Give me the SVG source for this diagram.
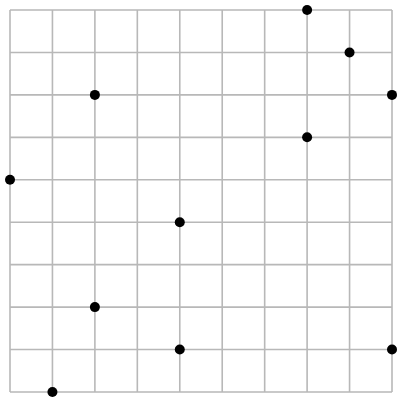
<svg xmlns="http://www.w3.org/2000/svg" width="400" height="398" viewBox="0 0 400 398">
<style>
.g{stroke:#b8b8b8;stroke-width:1.6;fill:none}
.d{fill:#000}
</style>
<rect width="400" height="398" fill="#fff"/>
<g id="grid" class="g">
<path d="M10 10V392M52.44 10V392M94.89 10V392M137.33 10V392M179.78 10V392M222.22 10V392M264.67 10V392M307.11 10V392M349.56 10V392M392 10V392"/>
<path d="M10 10H392M10 52.44H392M10 94.89H392M10 137.33H392M10 179.78H392M10 222.22H392M10 264.67H392M10 307.11H392M10 349.56H392M10 392H392"/>
</g>
<g id="dots" class="d">
<circle cx="307.11" cy="10" r="5"/>
<circle cx="349.56" cy="52.44" r="5"/>
<circle cx="94.89" cy="94.89" r="5"/>
<circle cx="392" cy="94.89" r="5"/>
<circle cx="307.11" cy="137.33" r="5"/>
<circle cx="10" cy="179.78" r="5"/>
<circle cx="179.78" cy="222.22" r="5"/>
<circle cx="94.89" cy="307.11" r="5"/>
<circle cx="179.78" cy="349.56" r="5"/>
<circle cx="392" cy="349.56" r="5"/>
<circle cx="52.44" cy="392" r="5"/>
</g>
</svg>
